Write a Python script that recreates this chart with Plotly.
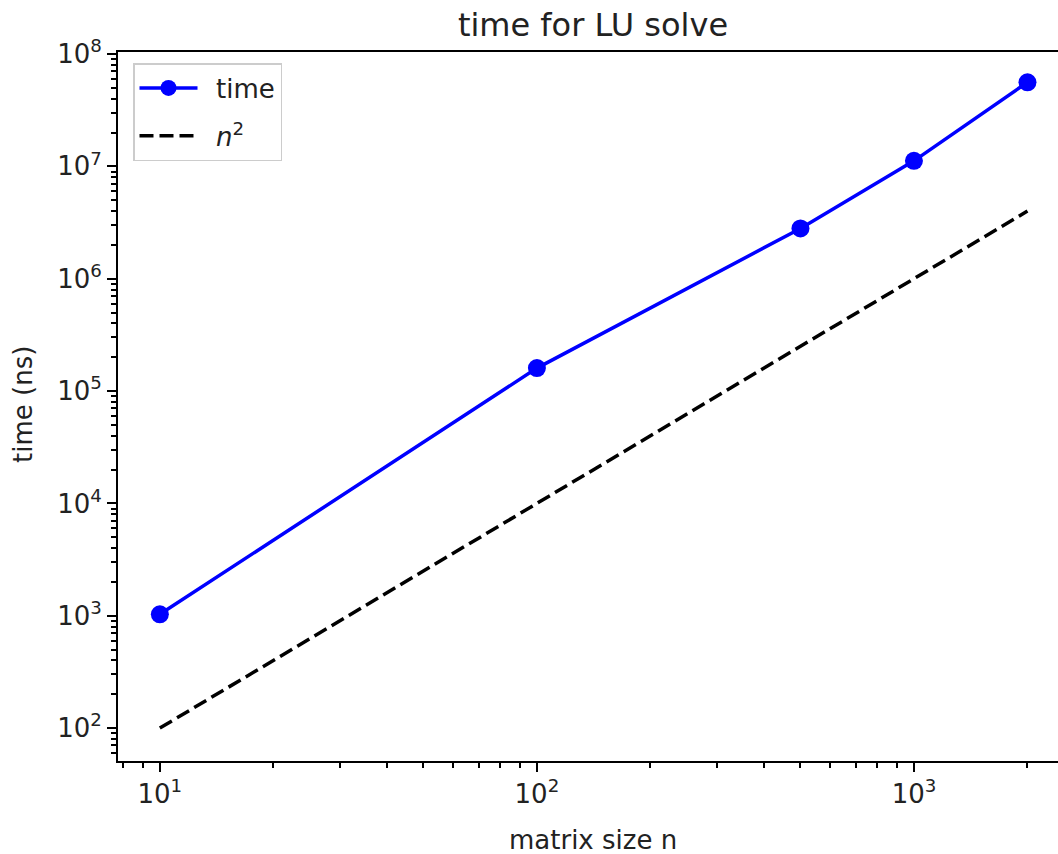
import plotly.graph_objects as go

sizes = [10, 100, 500, 1000, 2000]
times_ns = [1030, 1.6e5, 2.8e6, 1.12e7, 5.6e7]
n_squared = [100, 10000, 250000, 1000000, 4000000]

x_major = [10, 100, 1000]
x_major_text = ["10<sup>1</sup>", "10<sup>2</sup>", "10<sup>3</sup>"]
y_major = [1e2, 1e3, 1e4, 1e5, 1e6, 1e7, 1e8]
y_major_text = ["10<sup>%d</sup>" % k for k in range(2, 9)]

x_minor = [m * 10 ** e for e in range(0, 4) for m in range(2, 10)]
y_minor = [m * 10 ** e for e in range(1, 9) for m in range(2, 10)]

W, H = 1058, 854
L, R, T, B = 118, 0, 52, 93
FONT = "DejaVu Sans"
FS = 26
PW, PH = W - L - R, H - T - B
GAP = "\u00a0\u2009"

fig = go.Figure()
fig.add_trace(go.Scatter(
    x=sizes, y=times_ns, mode="lines+markers", name=GAP + "time",
    line=dict(color="#0000ff", width=3.5),
    marker=dict(color="#0000ff", size=18),
    legendgroup="a",
))
fig.add_trace(go.Scatter(
    x=sizes, y=n_squared, mode="lines", name=GAP + "<i>n</i><sup>2</sup>",
    line=dict(color="black", width=3.5, dash="14px,6px"),
    legendgroup="b",
))

axis_common = dict(
    showgrid=False, zeroline=False, showline=True, linecolor="black", linewidth=2,
    ticks="outside", ticklen=9, tickwidth=2, tickcolor="black",
    tickfont=dict(family=FONT, size=FS, color="#222222"),
)

fig.update_xaxes(
    type="log", range=[0.889, 3.382], tickmode="array",
    tickvals=x_major, ticktext=x_major_text, mirror=True,
    minor=dict(tickmode="array", tickvals=x_minor, ticks="outside", ticklen=5,
               tickwidth=1.5, tickcolor="black", showgrid=False),
    **axis_common,
)
fig.update_yaxes(
    type="log", range=[1.707, 8.018], tickmode="array",
    tickvals=y_major, ticktext=y_major_text,
    minor=dict(tickmode="array", tickvals=y_minor, ticks="outside", ticklen=5,
               tickwidth=1.5, tickcolor="black", showgrid=False),
    **axis_common,
)

fig.update_layout(
    width=W, height=H,
    margin=dict(l=L, r=R, t=T, b=B, pad=0),
    paper_bgcolor="white", plot_bgcolor="white",
    font=dict(family=FONT, size=FS, color="#222222"),
    title=dict(text="time for LU solve", x=593 / W, xref="container", xanchor="center",
               y=1 - 25 / H, yref="container", yanchor="middle",
               font=dict(family=FONT, size=32, color="#222222")),
    showlegend=True,
    legend=dict(x=(133 - L) / PW, y=1 - (63 - T) / PH, xanchor="left", yanchor="top",
                bgcolor="rgba(255,255,255,0.8)", bordercolor="#cccccc", borderwidth=1.5,
                font=dict(family=FONT, size=FS, color="#222222"),
                traceorder="grouped", tracegroupgap=11, itemwidth=58),
    annotations=[
        dict(text="matrix size n", xref="paper", yref="paper",
             x=(593 - L) / PW, y=-(840 - (H - B)) / PH,
             xanchor="center", yanchor="middle", showarrow=False,
             font=dict(family=FONT, size=FS, color="#222222")),
        dict(text="time (ns)", xref="paper", yref="paper",
             x=-(L - 23) / PW, y=(H - B - 405) / PH,
             xanchor="center", yanchor="middle", showarrow=False, textangle=-90,
             font=dict(family=FONT, size=FS, color="#222222")),
    ],
)

fig.write_html("out.html", config={"displayModeBar": False},
               post_script="document.body.style.margin='0px';document.body.style.overflow='hidden';")
